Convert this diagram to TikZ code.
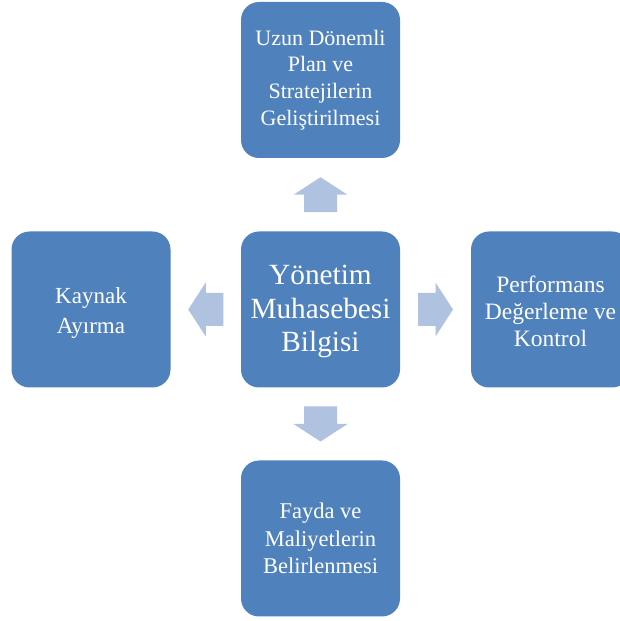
\documentclass[tikz,border=0pt]{standalone}
\usepackage{fontspec}
\setmainfont{Liberation Serif}
\usetikzlibrary{calc}
\definecolor{boxblue}{HTML}{4F81BD}
\definecolor{arrowblue}{HTML}{AFC2DF}
\tikzset{
  box/.style={fill=boxblue, draw=none, rounded corners=18pt, minimum width=159pt, minimum height=156pt, inner sep=0pt},
  boxtext/.style={text=white, align=center, inner sep=0pt, font=\fontsize{22pt}{26.8pt}\selectfont},
  barrow/.pic={\fill[arrowblue] (-17.5,-16.5) -- (0,-16.5) -- (0,-27) -- (17.5,0) -- (0,27) -- (0,16.5) -- (-17.5,16.5) -- cycle;}
}
\begin{document}
\begin{tikzpicture}[x=1pt,y=1pt]
\useasboundingbox (0,0) rectangle (620,621);
\node[box] (c) at (320.5,311.5) {};
\node[box] (t) at (320.5,541) {};
\node[box] (l) at (91,311.5) {};
\node[box] (r) at (550.5,311.5) {};
\node[box] (b) at (320.5,82.5) {};
\node[boxtext, font=\fontsize{29.3pt}{33.4pt}\selectfont] (ct) at ([yshift=-2pt]c.center) {Yönetim\\Muhasebesi\\Bilgisi};
\node[boxtext] (tt) at (t.center) {Uzun Dönemli\\Plan ve\\Stratejilerin\\Geliştirilmesi};
\node[boxtext, font=\fontsize{23pt}{30pt}\selectfont] (lt) at ([yshift=-3.5pt]l.center) {Kaynak\\Ayırma};
\node[boxtext, font=\fontsize{23.5pt}{26.7pt}\selectfont] (rt) at ([yshift=-2pt]r.center) {Performans\\Değerleme ve\\Kontrol};
\node[boxtext, font=\fontsize{22.5pt}{27.5pt}\selectfont] (bt) at (b.center) {Fayda ve\\Maliyetlerin\\Belirlenmesi};
\coordinate (mt) at ($(c.north)!0.5!(t.south)$);
\coordinate (mb) at ($(c.south)!0.5!(b.north)$);
\coordinate (ml) at ($(c.west)!0.5!(l.east)$);
\coordinate (mr) at ($(c.east)!0.5!(r.west)$);
\pic[rotate=90] at (mt) {barrow};
\pic[rotate=-90] at (mb) {barrow};
\pic[rotate=180] at (ml) {barrow};
\pic at (mr) {barrow};
\end{tikzpicture}
\end{document}
